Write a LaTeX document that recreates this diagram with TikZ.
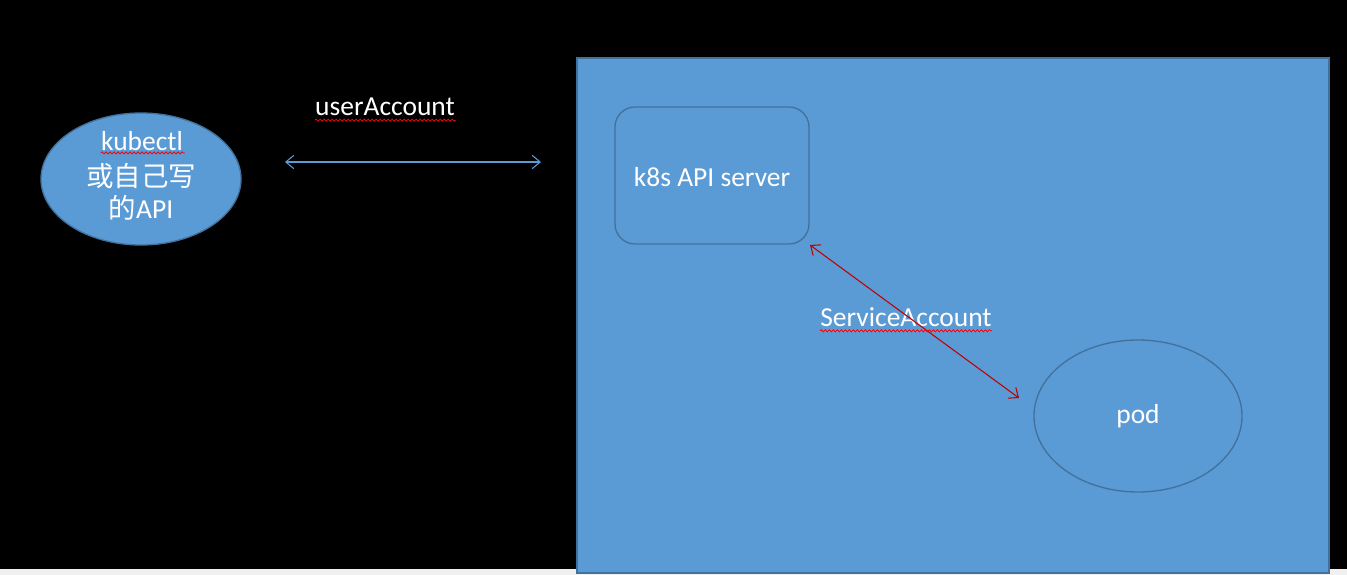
\documentclass[tikz,border=0pt]{standalone}
\usepackage{fontspec}
\setmainfont{Carlito}
\newfontfamily\cjk{Noto Sans CJK SC}
\usetikzlibrary{shapes.geometric,arrows.meta,decorations.pathmorphing}
\definecolor{fillblue}{HTML}{5B9BD5}
\definecolor{edgeblue}{HTML}{41719C}
\definecolor{darkred}{HTML}{C00000}
\definecolor{stripgray}{HTML}{F0F0F0}
\tikzset{
  shapebox/.style={fill=fillblue,draw=edgeblue,line width=1pt},
  lbl/.style={text=white,font=\fontsize{20.6}{24.75}\selectfont,inner sep=0pt},
  spell/.style={draw=red,line width=0.6pt,decorate,decoration={snake,amplitude=0.8,segment length=3}},
  tip/.style={{Straight Barb[length=6pt,width=10pt]}-{Straight Barb[length=6pt,width=10pt]}}
}
\begin{document}
\begin{tikzpicture}[x=0.75pt,y=-0.75pt]
  \fill[black] (0,0) rectangle (1347,575);
  \useasboundingbox (0,0) rectangle (1347,575);
  \fill[stripgray] (0,569) rectangle (1347,575);
  % big panel
  \node[shapebox,rectangle,minimum width=564pt,minimum height=386.25pt,inner sep=0pt] (panel) at (953,315.5) {};
  % kubectl ellipse
  \node[shapebox,ellipse,minimum width=150pt,minimum height=99pt,inner sep=0pt] (client) at (141,179) {};
  \node[lbl] (kt1) at (142,141) {kubectl};
  \node[lbl] (kt2) at (141,176) {\cjk 或自己写};
  \node[lbl] (kt3) at (141,208) {{\cjk 的}API};
  % api server
  \node[shapebox,rectangle,rounded corners=15pt,minimum width=145.5pt,minimum height=102.75pt,inner sep=0pt] (api) at (712,175.5) {};
  \node[lbl] (apitxt) at (712,177) {k8s API server};
  % pod
  \node[shapebox,ellipse,minimum width=156pt,minimum height=114pt,inner sep=0pt] (pod) at (1138,416) {};
  \node[lbl] (podtxt) at (1138,416) {pod};
  % labels
  \node[lbl] (ua) at (385,107) {userAccount};
  \node[lbl] (sa) at (906,317) {ServiceAccount};
  % connectors
  \coordinate (uaL) at (285,162);
  \coordinate (uaR) at (541,162);
  \draw[tip,draw=fillblue,line width=0.8pt] (uaL) -- (uaR);
  \coordinate (saA) at (810,245);
  \coordinate (saB) at (1019,398);
  \draw[tip,draw=darkred,line width=0.8pt] (saA) -- (saB);
  % spell-check underlines
  \draw[spell] (kt1.south west) ++(0,2) -- ++(84,0);
  \draw[spell] (ua.south west) ++(0,4) -- ++(141,0);
  \draw[spell] (sa.south west) ++(0,4) -- ++(172,0);
\end{tikzpicture}
\end{document}
